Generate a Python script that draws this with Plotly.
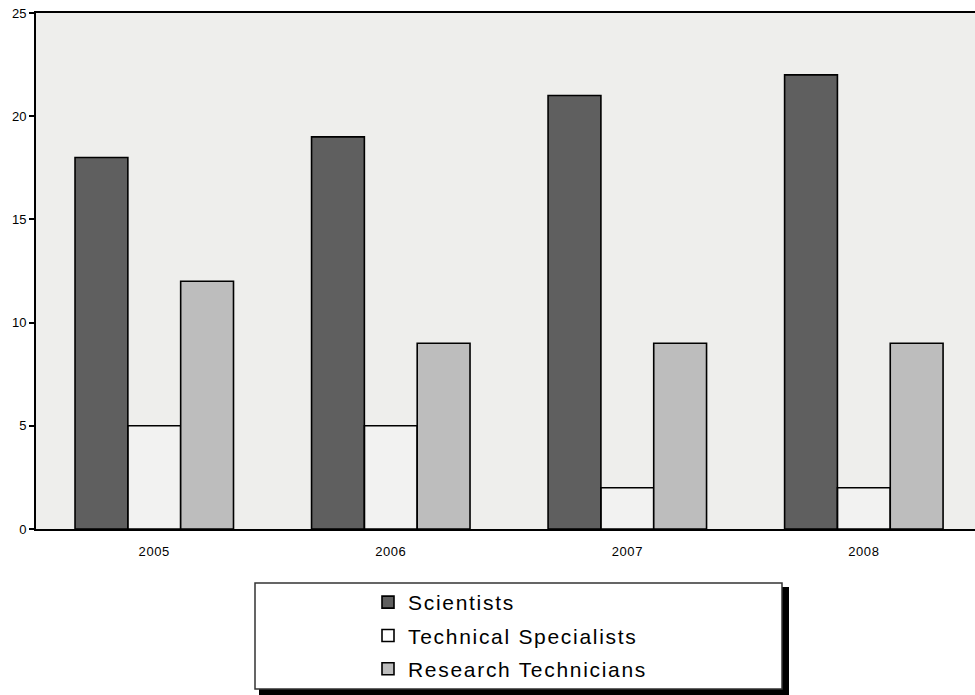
import plotly.graph_objects as go

# Staffing counts by year
years = ["2005", "2006", "2007", "2008"]
scientists = [18, 19, 21, 22]
tech_specialists = [5, 5, 2, 2]
research_techs = [12, 9, 9, 9]
y_ticks = [0, 5, 10, 15, 20, 25]

series_names = ["Scientists", "Technical Specialists", "Research Technicians"]
series_values = [scientists, tech_specialists, research_techs]
series_fills = ["#5f5f5f", "rgba(255,255,255,0.25)", "#bdbdbd"]

W, H = 975, 695
L, R, T, B = 36, 0, 13, 166
pw, ph = W - L - R, H - T - B


def px_to_paper(x, y):
    return (x - L) / pw, (H - B - y) / ph


def spaced(text, px):
    return f'<span style="letter-spacing:{px}px">{text}</span>'


fig = go.Figure()
for i, (name, vals, fill) in enumerate(zip(series_names, series_values, series_fills)):
    fig.add_trace(go.Bar(
        x=years, y=vals,
        name=spaced(name, 1.7),
        marker=dict(color=fill, line=dict(color="#000000", width=1.6)),
        legendgroup=f"g{i}",
    ))

# legend frame with drop shadow
sx0, sy0 = px_to_paper(259, 587)
sx1, sy1 = px_to_paper(789, 695)
bx0, by0 = px_to_paper(255, 583)
bx1, by1 = px_to_paper(782, 689)
shapes = [
    dict(type="rect", xref="paper", yref="paper", x0=sx0, x1=sx1, y0=sy0, y1=sy1,
         fillcolor="#000000", line=dict(width=0)),
    dict(type="rect", xref="paper", yref="paper", x0=bx0, x1=bx1, y0=by0, y1=by1,
         fillcolor="#ffffff", line=dict(color="#333333", width=1.5)),
]

lx, ly = px_to_paper(368, 582)

fig.update_layout(
    width=W, height=H,
    margin=dict(l=L, r=R, t=T, b=B, pad=0),
    paper_bgcolor="#ffffff",
    plot_bgcolor="#eeeeec",
    barmode="group",
    bargap=0.33,
    bargroupgap=0,
    font=dict(family="Liberation Sans, Arial, sans-serif", color="#000000"),
    showlegend=True,
    legend=dict(
        x=lx, y=ly, xanchor="left", yanchor="top",
        bgcolor="rgba(0,0,0,0)", borderwidth=0,
        font=dict(size=21, family="Liberation Sans, Arial, sans-serif"),
        traceorder="grouped", tracegroupgap=3,
    ),
    shapes=shapes,
    xaxis=dict(
        type="category",
        range=[-0.5, 3.47],
        tickvals=years, ticktext=[spaced(y, 0.6) for y in years],
        showline=True, linecolor="#000000", linewidth=2, mirror=True,
        ticks="", showgrid=False, zeroline=False,
        ticklabelstandoff=9,
        tickfont=dict(size=13),
    ),
    yaxis=dict(
        range=[0, 25], tickvals=y_ticks, ticktext=[str(v) for v in y_ticks],
        showline=True, linecolor="#000000", linewidth=2,
        ticks="outside", ticklen=5, tickwidth=1.5, tickcolor="#000000",
        showgrid=False, zeroline=False,
        tickfont=dict(size=13),
    ),
)

fig.write_html("out.html")
